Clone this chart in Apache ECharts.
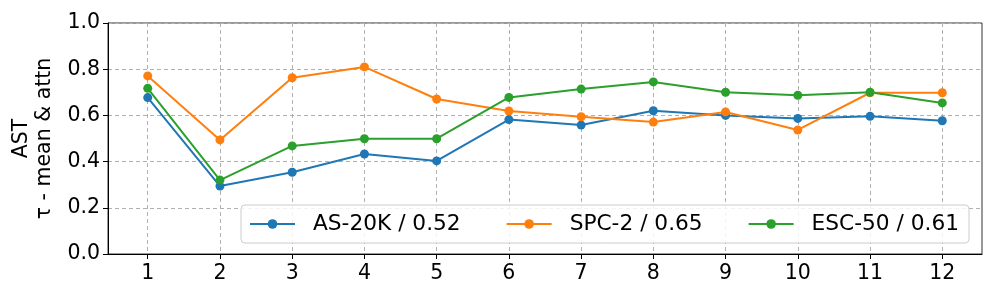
<!DOCTYPE html>
<html>
<head>
<meta charset="utf-8">
<script src="https://cdn.jsdelivr.net/npm/echarts@6/dist/echarts.min.js"></script>
<style>html,body{margin:0;padding:0;background:#fff}#c{width:997px;height:299px}</style>
</head>
<body>
<div id="c"></div>
<script>
const layers = [1,2,3,4,5,6,7,8,9,10,11,12];
const as20k = [0.677,0.294,0.354,0.433,0.403,0.582,0.558,0.620,0.600,0.587,0.596,0.577];
const spc2  = [0.771,0.494,0.763,0.810,0.671,0.619,0.594,0.571,0.615,0.537,0.698,0.698];
const esc50 = [0.717,0.320,0.468,0.499,0.499,0.678,0.714,0.745,0.700,0.687,0.700,0.654];
const seriesNames = ['AS-20K / 0.52','SPC-2 / 0.65','ESC-50 / 0.61'];
const colors = ['#1f77b4','#ff7f0e','#2ca02c'];

const font = 'DejaVu Sans';
const chart = echarts.init(document.getElementById('c'), null, {renderer:'canvas'});
function mk(name, data, color){
  return {
    name, type:'line', data: layers.map((x,i)=>[x,data[i]]),
    symbol:'circle', symbolSize:9, showSymbol:true,
    lineStyle:{color, width:2}, itemStyle:{color},
    emphasis:{disabled:true}
  };
}
chart.setOption({
  animation:false,
  grid:{left:108, right:15, top:23, bottom:45, outerBoundsMode:'none', containLabel:false, show:true, borderColor:'#333', borderWidth:1, backgroundColor:'transparent'},
  legend:{
    left:241, top:205, padding:[8,10,8,8], itemGap:45, itemWidth:45, itemHeight:12,
    backgroundColor:'rgba(255,255,255,0.85)', borderColor:'#cccccc', borderWidth:1, borderRadius:4,
    textStyle:{fontFamily:font, fontSize:21.7, color:'#000', padding:[0,0,0,13]},
    data: seriesNames
  },
  xAxis:{
    type:'value', min:0.45, max:12.55,
    axisLine:{show:true, onZero:false, lineStyle:{color:'#000', width:1}},
    axisTick:{show:true, customValues:layers, length:5, lineStyle:{color:'#000'}},
    axisLabel:{customValues:layers, fontFamily:font, fontSize:20.5, color:'#000', margin:9},
    splitLine:{show:true, lineStyle:{color:'#b0b0b0', type:[4,3], width:1}}
  },
  yAxis:{
    type:'value', min:0, max:1, interval:0.2,
    name:'AST\nτ - mean & attn', nameLocation:'middle', nameGap:52,
    nameTextStyle:{fontFamily:font, fontSize:20.5, color:'#000', lineHeight:23},
    axisLine:{show:true, lineStyle:{color:'#000', width:1}},
    axisTick:{show:true, length:5, lineStyle:{color:'#000'}},
    axisLabel:{fontFamily:font, fontSize:20.5, color:'#000', margin:8, formatter:v=>v.toFixed(1)},
    splitLine:{show:true, lineStyle:{color:'#b0b0b0', type:[4,3], width:1}}
  },
  series:[mk(seriesNames[0], as20k, colors[0]), mk(seriesNames[1], spc2, colors[1]), mk(seriesNames[2], esc50, colors[2])]
});
</script>
</body>
</html>
